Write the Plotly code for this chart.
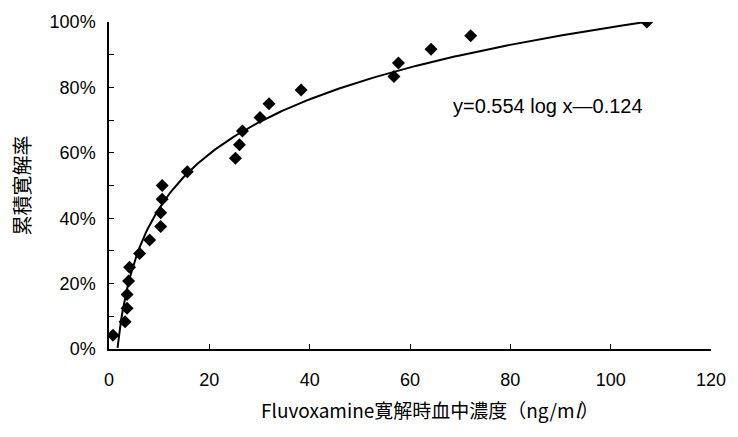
import numpy as np
import plotly.graph_objects as go

# Observed data: blood concentration at remission (ng/ml) vs cumulative remission rate
conc = [0.8, 3.2, 3.6, 3.6, 3.9, 4.1, 6.1, 8.1, 10.3, 10.3, 10.6, 10.6, 15.6,
        25.2, 26.0, 26.6, 30.1, 31.9, 38.3, 56.8, 57.7, 64.2, 72.1, 107.2]
rate = [0.042, 0.083, 0.125, 0.167, 0.208, 0.25, 0.292, 0.333, 0.375, 0.417, 0.458, 0.50, 0.542,
        0.583, 0.625, 0.667, 0.708, 0.75, 0.792, 0.833, 0.875, 0.917, 0.958, 1.0]

# Fitted curve stated on the chart: y = 0.554 log x - 0.124
fit_slope = 0.554
fit_intercept = -0.124
fit_x_start = 1.7
fit_x_end = 107.2

x_ticks = [0, 20, 40, 60, 80, 100, 120]
y_ticks = [0, 0.2, 0.4, 0.6, 0.8, 1.0]
y_tick_labels = ["0%", "20%", "40%", "60%", "80%", "100%"]

x_title = "Fluvoxamine寛解時血中濃度（ng/m<i>l</i>）"
y_title = "累積寛解率"
equation = "y=0.554 log x\u20140.124"

fx = np.linspace(fit_x_start, fit_x_end, 300)
fy = fit_slope * np.log10(fx) + fit_intercept

font = "Liberation Sans, Arial, sans-serif"
cjk = "Noto Sans CJK JP, Liberation Sans, sans-serif"

fig = go.Figure()
fig.add_trace(go.Scatter(x=fx, y=fy, mode="lines",
                         line=dict(color="black", width=2), hoverinfo="skip"))
fig.add_trace(go.Scatter(x=conc, y=rate, mode="markers",
                         marker=dict(symbol="diamond", size=10, color="black")))

fig.add_annotation(x=87.5, y=0.744, xref="x", yref="y",
                   text=equation, showarrow=False,
                   font=dict(family=font, size=20, color="black"))

fig.add_annotation(x=64.0, y=-0.184, xref="x", yref="paper", text=x_title,
                   showarrow=False, xanchor="center", yanchor="middle",
                   font=dict(family=cjk, size=19, color="black"))

fig.update_layout(
    width=738, height=437,
    margin=dict(l=109, r=20, t=17, b=88),
    plot_bgcolor="white", paper_bgcolor="white",
    showlegend=False,
    xaxis=dict(range=[0, 120], tickvals=x_ticks, ticks="inside", ticklen=5,
               tickcolor="black", showline=True, linecolor="black", linewidth=1.5,
               showgrid=False, zeroline=False, ticklabelstandoff=14,
               tickfont=dict(family=font, size=18, color="black")),
    yaxis=dict(range=[0, 1.0], tickvals=y_ticks, ticktext=y_tick_labels,
               ticks="inside", ticklen=5, tickcolor="black",
               minor=dict(dtick=0.1, ticks="inside", ticklen=5, tickcolor="black"),
               showline=True, linecolor="black", linewidth=1.5,
               showgrid=False, zeroline=False, ticklabelstandoff=8,
               tickfont=dict(family=font, size=18, color="black"),
               title=dict(text=y_title, font=dict(family=cjk, size=20, color="black"),
                          standoff=14)),
)

fig.write_html("out.html")
